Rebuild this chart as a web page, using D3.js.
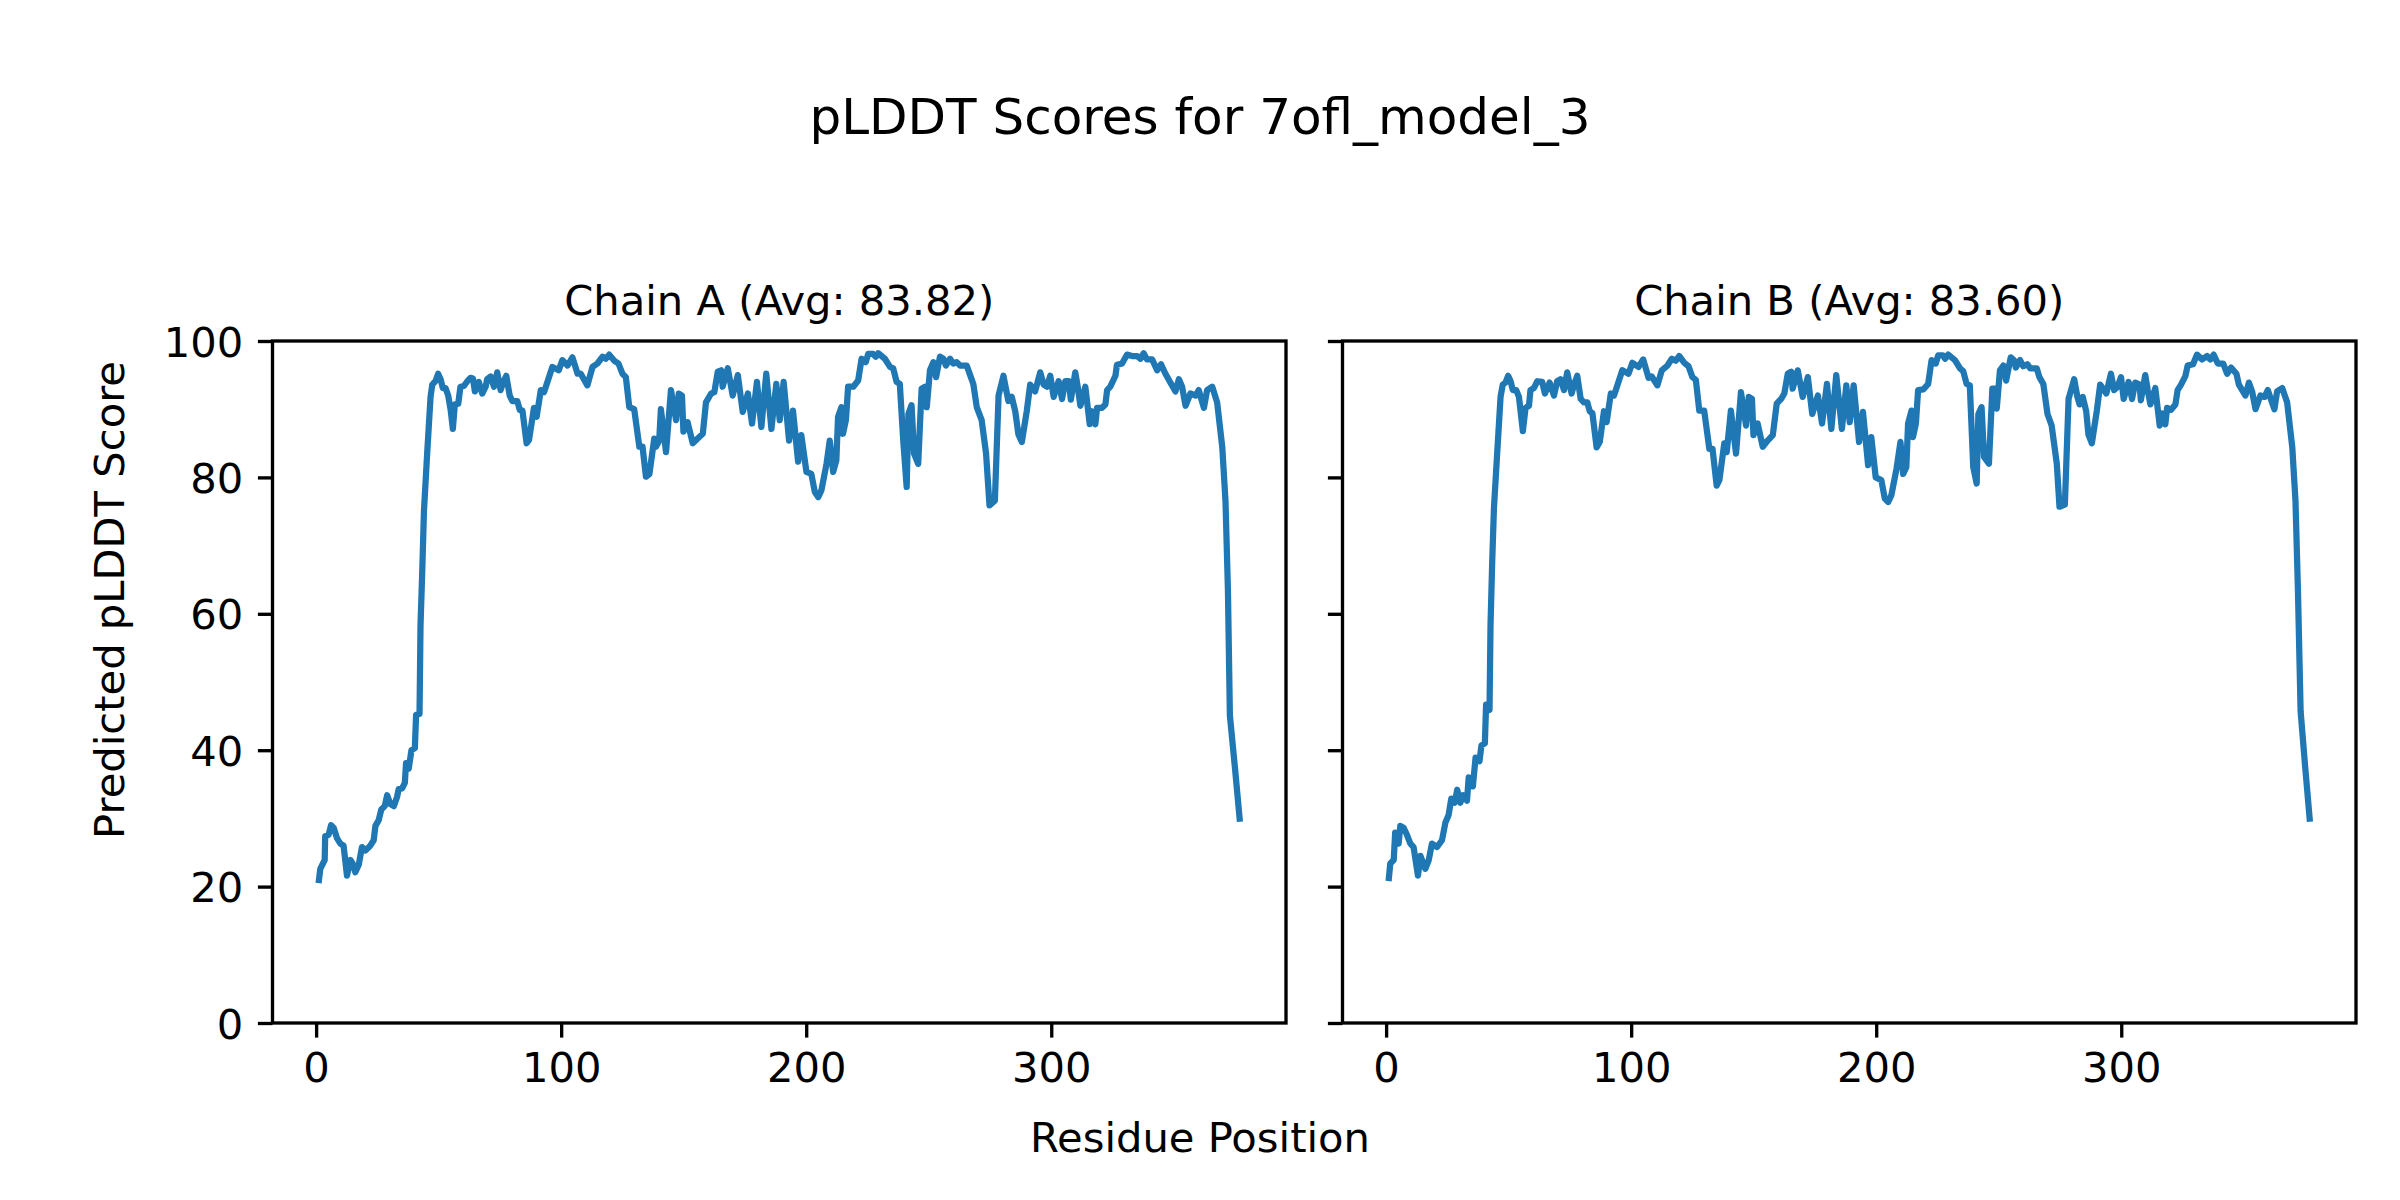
<!DOCTYPE html>
<html>
<head>
<meta charset="utf-8">
<script src="https://cdn.jsdelivr.net/npm/d3@7"></script>
<style>
  body { margin: 0; background: #fff; }
  text { font-family: "DejaVu Sans", sans-serif; fill: #000; }
  .axis path, .axis line { stroke: #000; stroke-width: 3.33; }
  .axis text { font-size: 41.67px; }
</style>
</head>
<body>
<svg id="fig" width="2400" height="1200"></svg>
<script>
// values (residue position, pLDDT score)
var residueA = [1,1.7,3.5,3.7,5.1,6.1,7.2,8.5,9.9,11.2,12.6,14,14.9,16,17.4,18.7,20.1,22.1,23.5,24.2,25.5,26.6,28,29,30.3,31.7,33,33.7,35.1,36.2,36.7,37.8,38.9,40.3,40.8,42.2,42.6,43.3,44,45.3,46.7,47.4,48.7,49.8,50.8,51.7,52.8,53.9,54.9,55.8,56.6,58,58.9,60.3,61.7,63,64,64.8,66.4,67.8,69.2,69.8,71.2,72.6,73.9,75.3,76.3,77.6,79,80.1,82.1,83.1,84.2,85.9,86.9,88.9,
  90,91.7,93,96.4,99,100.5,102.6,104.6,106.7,108,110.7,112.8,114.8,116.9,118.2,119.6,121.7,123.4,125,126.4,127.8,129.8,131.9,133.2,134.6,136,138,138.7,140,140.7,142.8,144.8,146.9,148,149.3,149.9,151.6,153.7,155.7,157.8,159.1,161.2,162.5,163.9,165.3,165.9,168,170,172.1,174.1,176.2,177.9,179.9,
  181.7,183.7,185.8,187.8,189.2,190.8,193,194.6,196.7,198,200.1,202.1,203.5,204.9,206.2,208.3,209.6,211,212.3,213,214.4,215,216.2,217.1,219.2,221.2,222.6,224.3,225.3,227.3,228.4,229.4,232.1,234.2,235.5,236.9,238.2,239.6,241,241.7,243,244,245.7,247.1,248.5,249.2,250.5,251.9,253,254.6,256,257,258.7,260,261.4,262.8,265.5,266.9,268.2,269.6,271.6,273.4,274.8,
  277,278.5,280.5,281.9,282.5,283.9,285.3,286.6,288,290,291.4,293.4,295.5,296.9,298.2,299.6,301,303,304.4,305.7,307.1,308,309.8,310.8,311.9,313.9,315.7,316.6,318,318.7,320.7,322.1,322.8,324.1,326.2,326.8,328.9,330.9,333,335,336.4,337.7,339.1,341.2,343.2,344.8,346.6,348.6,350.7,352.1,353.4,354.8,356.8,358.9,360.2,362.3,363.6,365.7,367.7,369.8,371.1,372.1,372.9,375,377];
var scoreA = [20.5,22.6,23.9,27.4,27.6,29,28.6,27.1,26.3,26,21.6,23.9,23.4,22.1,23.2,25.8,25.3,26,26.8,28.9,29.7,31.3,31.8,33.4,32.1,31.8,33.1,34.3,34.4,35.2,38.1,37.3,40,40.3,45.2,45.3,58.3,66.1,75,83.4,91.8,93.6,94.1,95.2,94.4,93.1,93.1,92,89.9,87.1,90.7,90.8,93.3,93.4,94.1,94.6,94.5,92.6,94,92.3,93.3,94.4,94.8,93.3,95.4,92.8,93.9,94.9,92,91.2,91.2,89.9,89.8,85,85.5,90.2,
  88.9,92.8,92.5,96.2,95.7,97.2,96.4,97.6,95.2,95.2,93.5,96.2,96.7,97.7,97.4,98,97.1,96.7,95.2,94.7,90.3,90,84.5,84.5,80.1,80.5,85.7,84.5,85.4,90,83.7,92.8,88.4,92.3,92,86.7,88.1,85,85.7,86.4,91,92.3,92.5,95.5,95.7,93.3,96,92,95,89.6,92.3,87.9,94,
  87.4,95.2,87.1,93.7,88.4,94,85.4,89.8,82.3,86.2,80.8,80.5,77.9,77.1,78.1,82,85.4,80.8,82.5,88.9,90.3,86.4,88.4,93.3,93.3,94.2,97.4,96.9,98.1,98.1,97.7,98.2,97.4,96.2,96,94,93.7,85.4,78.6,89.3,90.6,83.5,82,93,93.3,90.3,95.7,96.9,94.7,97.7,97.4,96.4,97.4,96.7,96.9,96.4,96.4,95,93.7,90.3,88.4,83.5,75.9,
  76.6,92,94.9,92.3,91.2,91.8,89.7,86.3,85.2,89.7,93.6,92.6,95.4,93.6,93.3,94.9,91.8,94.1,91.5,94.1,94.1,91.4,95.4,93.3,90.5,93.3,87.8,89.7,87.8,90.2,90.2,90.7,92.8,93.3,94.9,96.5,96.7,98,97.8,97.8,97.4,98.2,97.3,97.3,95.7,96.6,95.2,93.9,92.6,94.4,93.3,90.5,92.3,92,92.8,90.2,92.8,93.3,91,84.4,76.6,63.5,45.1,37.3,29.5];

var residueB = [1,1.7,3.1,3.7,5.1,5.8,7.2,8.5,9.9,11.2,13,14,16,17.4,18.7,20.8,22.8,24.2,25.5,26.6,28,29,30.3,31.4,33,33.7,35.4,36.5,38.1,38.9,40.3,40.8,42.2,42.6,43.3,44,45.3,46.7,47.6,48.7,49.8,50.8,51.7,53.1,54.2,55.8,56.9,58.3,58.9,60.3,61.7,63.7,64.8,66.7,68.5,69.8,71.2,72.6,73.9,75.7,76.7,78,79.4,80.7,82.1,83.1,84.2,85.9,87.2,88.9,
  90,91.7,93,96.4,98.9,100.5,103,104.9,107.1,108.4,110.7,112.5,114.8,116.6,118.2,119.6,121.7,123.4,125,126.4,127.8,129.8,131.9,133.2,134.9,136,138,139,140.7,142.8,144.8,146.9,148,149.3,149.9,151.6,153.7,155.7,157.8,159.4,161.2,162.5,163.9,165.3,165.9,168,170,172.1,173.9,176.2,177.9,179.9,
  181.7,183.7,186,187.8,189.2,190.8,193,194.6,196.7,198,199.8,202.1,203.5,204.9,206.2,208.3,209.9,211,212.3,213,214.4,215,216.2,217.1,219.2,221.2,222.6,224.3,225.3,227.3,228.1,229.4,232.1,234.2,235.5,236.9,238.2,239.6,241,241.7,243,244,246,247.4,248.5,249.2,250.5,251.9,253,254.9,256.2,257,258.7,260,261.7,262.8,265.5,266.6,268.2,269.9,271.6,273.7,274.8,
  277,278.5,280.8,282.1,283,284.3,285.7,286.6,288,290,291.4,293.9,295.8,297.1,298.5,299.9,301,303,304.4,305.7,307.5,308,309.8,310.8,311.9,313.9,315.7,316.6,318,318.7,320.3,322.1,323,324.4,326.2,327.1,329.3,330.9,333,335,336.4,337.7,339.4,341.6,343.2,344.8,347,348,350.7,352.1,353.4,354.8,356.8,358.5,359.8,362.5,363.6,365.7,367.7,369.8,371.1,372.1,373.2,375,377];
var scoreB = [20.8,23.4,23.9,27.9,26.3,28.9,28.6,27.6,26.3,25.8,21.6,24.5,22.6,23.9,26.3,25.8,26.8,29.4,30.5,32.9,32.3,34.2,32.3,33.4,32.6,36,34.7,38.9,38.4,40.7,41,46.7,45.9,58.3,67.7,75.5,83.4,91.8,93.6,93.9,94.9,94.1,92.8,92.8,91.8,86.8,90.2,90.5,92.8,93.1,94.1,94,92.3,93.9,92,94.1,94.4,92.8,95.4,92.3,93.6,94.9,91.5,91,91,89.7,89.4,84.4,85.2,89.7,
  88.1,92.3,92,95.7,95.2,96.8,96.2,97.3,94.6,94.8,93.5,95.7,96.4,97.4,97.1,97.8,96.8,96.3,94.7,94.3,89.8,89.8,84.2,84.2,78.8,79.6,85,83.7,89.8,83.5,92.5,87.6,91.8,91.5,86.2,87.9,84.5,85.4,86.2,90.8,91.5,92.3,95.2,95.5,93,95.7,91.8,94.7,89.3,92,87.9,93.7,
  87.1,95,87.1,93.5,88.1,93.5,85.2,89.6,81.8,85.9,80,79.6,76.9,76.4,77.4,81.3,85.2,80.5,81.5,87.9,89.8,85.9,87.9,92.8,92.9,93.7,97.2,96.7,97.9,97.9,97.4,98,97.2,96,95.6,93.7,93.5,81.5,79.1,89.3,90.3,83,82,93,93,90.1,95.7,96.4,94.2,97.6,97.2,96.1,97.2,96.3,96.6,96,96,94.7,93.7,89.3,87.6,82,75.7,
  76,91.5,94.4,91.8,90.7,91.8,89.7,86.3,85,89.7,93.6,92.3,95.2,92.8,93.3,94.7,91.5,94,91.5,93.9,93.6,91.3,95,92.8,90.7,93.1,87.6,89.4,87.8,90.2,89.9,90.7,92.8,93.6,94.9,96.4,96.6,98,97.3,97.8,97.3,98,96.7,96.7,95.2,96.1,95.2,93.6,92,93.9,92.6,90,92,91.8,92.8,90,92.6,93.1,91,84.4,76.6,63.5,45.7,37.8,29.5];

var chainTitles = ["Chain A (Avg: 83.82)", "Chain B (Avg: 83.60)"];
var xTicks = [0, 100, 200, 300];
var yTicks = [0, 20, 40, 60, 80, 100];

var svg = d3.select("#fig");
var margin = {top: 341, bottom: 177},
    height = 1200 - margin.top - margin.bottom,
    panelWidth = 1013.5,
    panelLeft = [272.5, 1342.5];

// matplotlib style 5% margins on x
var xMin = d3.min(residueA), xMax = d3.max(residueA), pad = (xMax - xMin) * 0.05;
var xScale = d3.scaleLinear().domain([xMin - pad, xMax + pad]).range([0, panelWidth]);
var yScale = d3.scaleLinear().domain([0, 100]).range([height, 0]);

svg.append("text")
  .attr("x", 1200).attr("y", 134)
  .attr("text-anchor", "middle")
  .style("font-size", "50px")
  .text("pLDDT Scores for 7ofl_model_3");

svg.append("text")
  .attr("x", 1200).attr("y", 1152)
  .attr("text-anchor", "middle")
  .style("font-size", "41.67px")
  .text("Residue Position");

svg.append("text")
  .attr("transform", "translate(124,600) rotate(-90)")
  .attr("text-anchor", "middle")
  .style("font-size", "41.67px")
  .text("Predicted pLDDT Score");

function drawPanel(i, residues, scores) {
  var g = svg.append("g").attr("transform", "translate(" + panelLeft[i] + "," + margin.top + ")");

  var line = d3.line()
    .x(function(d, k) { return xScale(residues[k]); })
    .y(function(d) { return yScale(d); });

  g.append("path")
    .datum(scores)
    .attr("d", line)
    .attr("fill", "none")
    .attr("stroke", "#1f77b4")
    .attr("stroke-width", 6.25)
    .attr("stroke-linejoin", "round")
    .attr("stroke-linecap", "butt");

  g.append("g")
    .attr("class", "axis")
    .attr("transform", "translate(0," + height + ")")
    .call(d3.axisBottom(xScale).tickValues(xTicks).tickSize(14.6).tickPadding(14.6).tickSizeOuter(0))
    .call(function(a) { a.select(".domain").remove(); });

  var yAxis = d3.axisLeft(yScale).tickValues(yTicks).tickSize(14.6).tickPadding(14.6).tickSizeOuter(0);
  if (i > 0) yAxis.tickFormat("");
  g.append("g")
    .attr("class", "axis")
    .call(yAxis)
    .call(function(a) { a.select(".domain").remove(); a.selectAll("text").attr("dy", "0.36em"); });

  g.append("rect")
    .attr("width", panelWidth).attr("height", height)
    .attr("fill", "none")
    .attr("stroke", "#000")
    .attr("stroke-width", 3.33);

  g.append("text")
    .attr("x", panelWidth / 2).attr("y", 315 - margin.top)
    .attr("text-anchor", "middle")
    .style("font-size", "41.67px")
    .text(chainTitles[i]);
}

drawPanel(0, residueA, scoreA);
drawPanel(1, residueB, scoreB);
</script>
</body>
</html>
